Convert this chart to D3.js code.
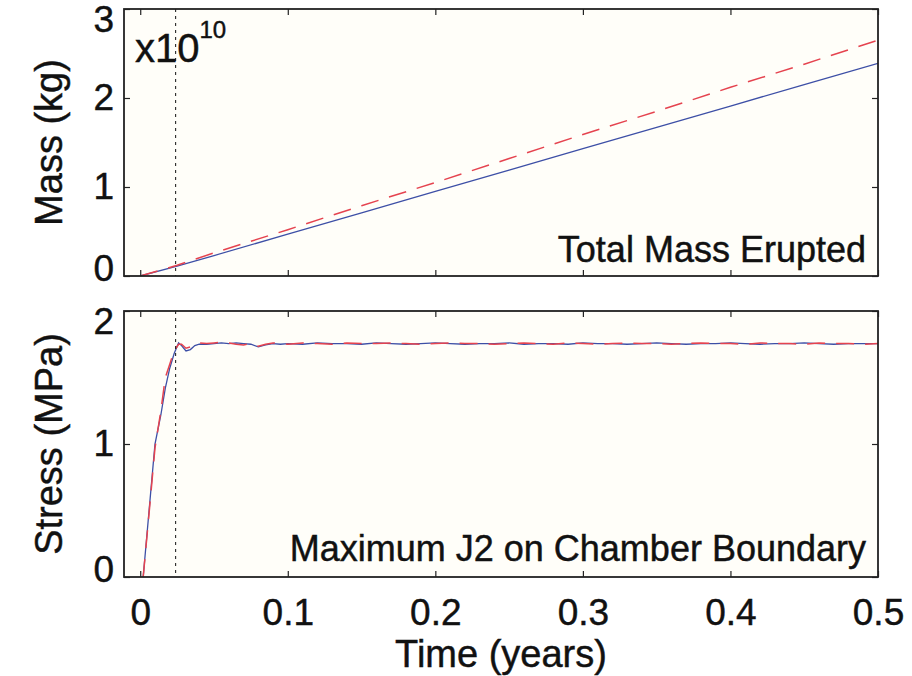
<!DOCTYPE html>
<html>
<head>
<meta charset="utf-8">
<script src="https://cdn.jsdelivr.net/npm/d3@7"></script>
<style>
  body { margin: 0; background: #fff; }
  svg { display: block; }
  text { font-family: "Liberation Sans", Arial, Helvetica, sans-serif; fill: #111; stroke: #111; stroke-width: 0.45px; }
</style>
</head>
<body>
<svg width="912" height="676"></svg>
<script>
// ticks
var xTicks = [0, 0.1, 0.2, 0.3, 0.4, 0.5];
var massTicks = [0, 1, 2, 3];
var stressTicks = [0, 1, 2];
var eventTime = 0.024;

// total mass erupted (x1e10 kg)
var massTime = [0, 0.025, 0.05, 0.1, 0.15, 0.2, 0.25, 0.3, 0.35, 0.4, 0.45, 0.5];
var massBlue = [0, 0.11, 0.23, 0.47, 0.71, 0.95, 1.19, 1.43, 1.67, 1.91, 2.15, 2.39];
var massRed  = [0, 0.12, 0.26, 0.52, 0.79, 1.05, 1.32, 1.59, 1.85, 2.12, 2.38, 2.65];

// max J2 stress (MPa)
var stressTime = [0.002, 0.006, 0.010, 0.014, 0.017, 0.020, 0.023, 0.026, 0.028, 0.031, 0.034, 0.037,
  0.040, 0.045, 0.050, 0.055, 0.060, 0.065, 0.070, 0.075, 0.080, 0.085, 0.090, 0.095,
  0.10, 0.11, 0.12, 0.13, 0.14, 0.15, 0.16, 0.17, 0.18, 0.19, 0.20, 0.21, 0.22, 0.23, 0.24,
  0.25, 0.26, 0.27, 0.28, 0.29, 0.30, 0.31, 0.32, 0.33, 0.34, 0.35, 0.36, 0.37, 0.38, 0.39,
  0.40, 0.41, 0.42, 0.43, 0.44, 0.45, 0.46, 0.47, 0.48, 0.49, 0.50];
var stressBlue = [0, 0.50, 1.00, 1.22, 1.42, 1.57, 1.68, 1.76, 1.74, 1.70, 1.71, 1.74,
  1.75, 1.75, 1.755, 1.76, 1.755, 1.76, 1.755, 1.75, 1.73, 1.745, 1.755, 1.75,
  1.755, 1.75, 1.76, 1.755, 1.755, 1.75, 1.76, 1.755, 1.75, 1.755, 1.76, 1.755, 1.75, 1.755, 1.755,
  1.76, 1.75, 1.755, 1.755, 1.75, 1.76, 1.755, 1.755, 1.75, 1.755, 1.76, 1.755, 1.75, 1.755, 1.755,
  1.76, 1.755, 1.75, 1.755, 1.755, 1.76, 1.755, 1.75, 1.755, 1.755, 1.755];
var stressRed = [0, 0.48, 0.97, 1.25, 1.50, 1.60, 1.70, 1.75, 1.75, 1.72, 1.73, 1.75,
  1.76, 1.755, 1.76, 1.765, 1.76, 1.75, 1.745, 1.755, 1.735, 1.75, 1.76, 1.755,
  1.75, 1.76, 1.755, 1.75, 1.76, 1.755, 1.755, 1.76, 1.755, 1.75, 1.755, 1.76, 1.755, 1.755, 1.75,
  1.755, 1.76, 1.755, 1.75, 1.76, 1.755, 1.75, 1.755, 1.76, 1.755, 1.755, 1.75, 1.755, 1.76, 1.755,
  1.755, 1.75, 1.76, 1.755, 1.755, 1.75, 1.76, 1.755, 1.755, 1.75, 1.755];

var blue = "#3d4fa6", red = "#e5434f";
var svg = d3.select("svg");
var x = d3.scaleLinear().domain([-0.011, 0.5]).range([124, 878]);

function panel(id, y, yTicks, time, sBlue, sRed, showX) {
    var top = y.range()[1], bottom = y.range()[0];
    var g = svg.append("g");

    g.append("rect")
        .attr("x", x.range()[0]).attr("y", top)
        .attr("width", x.range()[1] - x.range()[0]).attr("height", bottom - top)
        .attr("fill", "#fffef9");

    g.append("clipPath").attr("id", id)
        .append("rect")
        .attr("x", x.range()[0]).attr("y", top)
        .attr("width", x.range()[1] - x.range()[0]).attr("height", bottom - top);

    var line = function(vals) {
        return d3.line().x((d, i) => x(time[i])).y(d => y(d))(vals);
    };

    g.append("path").attr("d", line(sBlue))
        .attr("fill", "none").attr("stroke", blue).attr("stroke-width", 1.3)
        .attr("clip-path", "url(#" + id + ")");
    g.append("path").attr("d", line(sRed))
        .attr("fill", "none").attr("stroke", red).attr("stroke-width", 1.5)
        .attr("stroke-dasharray", "18,11")
        .attr("clip-path", "url(#" + id + ")");

    g.append("line")
        .attr("x1", x(eventTime)).attr("x2", x(eventTime))
        .attr("y1", top).attr("y2", bottom)
        .attr("stroke", "#111").attr("stroke-width", 1)
        .attr("stroke-dasharray", "3,4");

    // axes, ticks pointing inward
    var yl = g.append("g").attr("transform", "translate(" + x.range()[0] + ",0)")
        .call(d3.axisLeft(y).tickValues(yTicks).tickSize(-6).tickPadding(10).tickFormat(d3.format("d")));
    yl.selectAll("text").attr("font-size", 37)
        .attr("dy", d => d == yTicks[yTicks.length - 1] ? "0.62em" : d == 0 ? "0.12em" : "0.32em");
    g.append("g").attr("transform", "translate(" + x.range()[1] + ",0)")
        .call(d3.axisRight(y).tickValues(yTicks).tickSize(-6).tickFormat(""));
    g.append("g").attr("transform", "translate(0," + top + ")")
        .call(d3.axisTop(x).tickValues(xTicks).tickSize(-6).tickFormat(""));
    var xb = g.append("g").attr("transform", "translate(0," + bottom + ")")
        .call(d3.axisBottom(x).tickValues(xTicks).tickSize(-6).tickPadding(22)
            .tickFormat(showX ? d3.format("") : ""));
    xb.selectAll("text").attr("font-size", 37);

    g.selectAll(".domain").remove();
    g.selectAll(".tick line").attr("stroke", "#222").attr("stroke-width", 1.2);
    g.selectAll(".tick text").attr("fill", "#111").attr("font-family", null);

    g.append("rect")
        .attr("x", x.range()[0]).attr("y", top)
        .attr("width", x.range()[1] - x.range()[0]).attr("height", bottom - top)
        .attr("fill", "none").attr("stroke", "#222").attr("stroke-width", 1.8);
    return g;
}

var yMass = d3.scaleLinear().domain([0, 3]).range([276, 9]);
var yStress = d3.scaleLinear().domain([0, 2]).range([577, 311]);

var gTop = panel("clipTop", yMass, massTicks, massTime, massBlue, massRed, false);
var gBot = panel("clipBot", yStress, stressTicks, stressTime, stressBlue, stressRed, true);

// exponent label
var ex = svg.append("text").attr("x", 135).attr("y", 62).attr("font-size", 40);
ex.append("tspan").text("x10");
ex.append("tspan").attr("font-size", 24).attr("dy", -24).text("10");

gTop.append("text").attr("x", 866).attr("y", 262)
    .attr("text-anchor", "end").attr("font-size", 36).text("Total Mass Erupted");
gBot.append("text").attr("x", 866).attr("y", 561)
    .attr("text-anchor", "end").attr("font-size", 36).text("Maximum J2 on Chamber Boundary");

svg.append("text").attr("transform", "translate(62," + (yMass(1.5)) + ") rotate(-90)")
    .attr("text-anchor", "middle").attr("font-size", 38).text("Mass (kg)");
svg.append("text").attr("transform", "translate(62," + (yStress(1)) + ") rotate(-90)")
    .attr("text-anchor", "middle").attr("font-size", 38).text("Stress (MPa)");

svg.append("text").attr("x", (x.range()[0] + x.range()[1]) / 2).attr("y", 667)
    .attr("text-anchor", "middle").attr("font-size", 38).text("Time (years)");
</script>
</body>
</html>
